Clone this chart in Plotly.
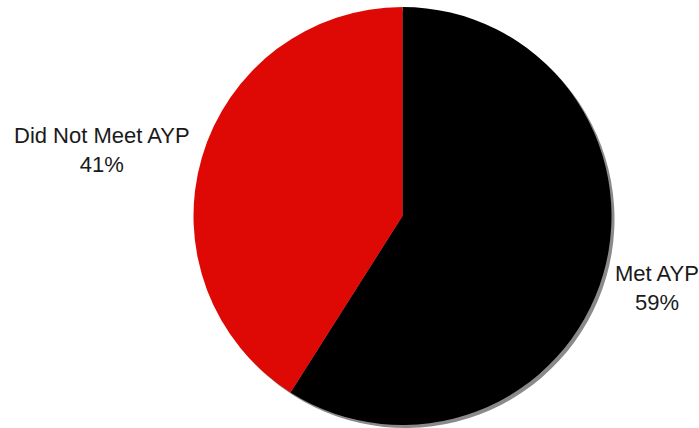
import plotly.graph_objects as go

labels = ["Met AYP", "Did Not Meet AYP"]
values = [59, 41]
colors = ["#000000", "#DE0805"]

W, H = 699, 428
cx, cy, d = 402.5, 216, 418

def dom(cx, cy):
    return dict(x=[max(0, (cx - d / 2) / W), min(1, (cx + d / 2) / W)],
                y=[max(0, 1 - (cy + d / 2) / H), min(1, 1 - (cy - d / 2) / H)])

fig = go.Figure()
# shadow
fig.add_trace(go.Pie(labels=labels, values=values, sort=False, direction="clockwise",
                     marker=dict(colors=["#8a8a8a", "#8a8a8a"], line=dict(width=0)),
                     textinfo="none", hoverinfo="skip", showlegend=False,
                     domain=dom(cx + 3, cy + 3)))
fig.add_trace(go.Pie(labels=labels, values=values, sort=False, direction="clockwise",
                     marker=dict(colors=colors, line=dict(width=0)),
                     textinfo="none", showlegend=False,
                     domain=dom(cx, cy)))

total = sum(values)
label_pos = [(657, 288), (101.5, 150)]
annotations = []
for lab, v, (x, y) in zip(labels, values, label_pos):
    annotations.append(dict(text=f"{lab}<br>{round(100 * v / total)}%", x=x / W, y=1 - y / H,
                            xref="paper", yref="paper", showarrow=False,
                            xanchor="center", yanchor="middle", align="center",
                            font=dict(family="Liberation Sans, Arial, sans-serif", size=22, color="#1a1a1a")))

fig.update_layout(width=W, height=H, margin=dict(l=0, r=0, t=0, b=0),
                  paper_bgcolor="white", plot_bgcolor="white", annotations=annotations)

fig.write_html("out.html", config={"displayModeBar": False},
               post_script="document.body.style.margin='0';document.body.style.overflow='hidden';")
